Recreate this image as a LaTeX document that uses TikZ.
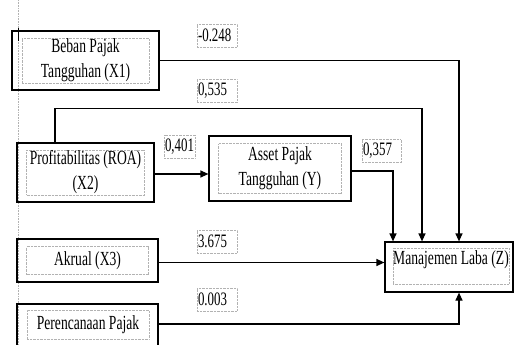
\documentclass[tikz,border=0pt]{standalone}
\usepackage{fontspec}
\setmainfont{Liberation Serif}[FakeStretch=0.68]
\usetikzlibrary{arrows.meta}

\begin{document}
\begin{tikzpicture}[x=1pt,y=-1pt,semithick,
 outbox/.style={draw,line width=1.2pt,inner sep=0pt},
 inbox/.style={draw=gray!60,densely dotted,thin,inner sep=0pt,align=center,font=\fontsize{20}{25}\selectfont},
 coef/.style={draw=gray!60,densely dotted,thin,inner sep=1pt,minimum height=23pt,text width=#1,align=left,font=\fontsize{19}{20}\selectfont},
 link/.style={line width=1.2pt,-{Triangle[length=8pt,width=7pt]}}]
\useasboundingbox (0,0) rectangle (514,345);
\clip (0,0) rectangle (514,345);
\draw[gray!60,densely dotted] (18,0) -- (18,345);
\draw[line width=1pt] (18,28) -- (18,41);
% variables
\node[outbox,minimum width=147pt,minimum height=59pt] (bX1) at (85.5,60.5) {};
\node[inbox,minimum width=127pt,minimum height=45pt] (tX1) at (bX1) {Beban Pajak\\Tangguhan (X1)};
\node[outbox,minimum width=137pt,minimum height=59pt] (bX2) at (85.5,172.5) {};
\node[inbox,minimum width=118pt,minimum height=45pt] (tX2) at (bX2) {Profitabilitas (ROA)\\(X2)};
\node[outbox,minimum width=142pt,minimum height=65pt] (bY) at (280,168.5) {};
\node[inbox,minimum width=123pt,minimum height=50pt] (tY) at (bY) {Asset Pajak\\Tangguhan (Y)};
\node[outbox,minimum width=141pt,minimum height=43pt] (bX3) at (87.5,260.5) {};
\node[inbox,minimum width=122pt,minimum height=28pt] (tX3) at (bX3) {Akrual (X3)};
\node[outbox,minimum width=141pt,minimum height=50pt] (bX4) at (87.5,329) {};
\node[inbox,minimum width=122pt,minimum height=29pt] (tX4) at (88,324.5) {Perencanaan Pajak};
\node[outbox,minimum width=128pt,minimum height=50pt] (bZ) at (449,267) {};
\node[inbox,minimum width=114pt,minimum height=36pt,text depth=17pt] (tZ) at (451,266) {Manajemen Laba (Z)};
% coefficients
\node[coef=38pt] (c1) at (217,35.5) {-0.248};
\node[coef=38pt] (c2) at (217,91) {0,535};
\node[coef=29pt] (c3) at (179.5,146.5) {0,401};
\node[coef=37pt] (c4) at (381.5,151) {0,357};
\node[coef=38pt] (c5) at (217,241.5) {3.675};
\node[coef=38pt] (c6) at (217,299.5) {0.003};
% paths
\draw[link] (bX1.east) -| ([xshift=10pt]bZ.north);
\draw[link] ([xshift=-30.5pt]bX2.north) -- ++(0,-34) -| ([xshift=-27pt]bZ.north);
\draw[link] ([yshift=-1.5pt]bX2.east) -- ([yshift=-1.5pt]bX2.east -| bY.west);
\draw[link] ([yshift=-2.5pt]bY.east) -| ([xshift=-56pt]bZ.north);
\draw[link] ([yshift=-2pt]bX3.east) -- ([yshift=-2pt]bX3.east -| bZ.west);
\draw[link] ([yshift=5pt]bX4.east) -| ([xshift=10pt]bZ.south);
\end{tikzpicture}
\end{document}
